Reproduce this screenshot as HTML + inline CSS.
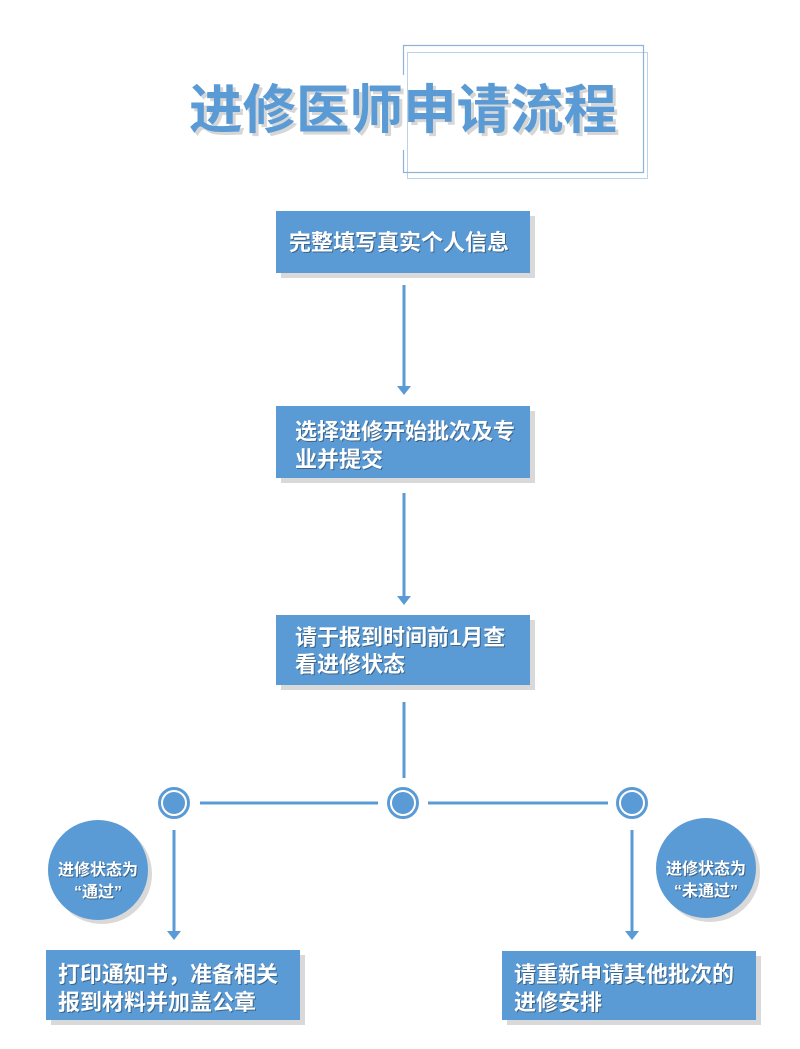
<!DOCTYPE html>
<html><head><meta charset="utf-8"><style>
html,body{margin:0;padding:0;background:#fff;}
svg{display:block;}
text{font-family:"Liberation Sans","Noto Sans CJK SC",sans-serif;font-weight:bold;}
.w{fill:#fff;filter:drop-shadow(1px 1px 0 rgba(0,0,0,.35));}
</style></head><body>
<svg width="800" height="1049" viewBox="0 0 800 1049" xmlns="http://www.w3.org/2000/svg">
<rect x="407.5" y="52.5" width="240" height="126" fill="none" stroke="#b9d3ea" stroke-width="1"/>
<path d="M403.5 75 V45.5 H643.5 V172.5 H403.5 V150" fill="none" stroke="#8fb3d6" stroke-width="1.2"/>
<text x="192" y="131" font-size="53" fill="#d6d6d6" textLength="428" lengthAdjust="spacingAndGlyphs">进修医师申请流程</text>
<text x="189" y="128" font-size="53" fill="#5b9bd5" textLength="428" lengthAdjust="spacingAndGlyphs">进修医师申请流程</text>
<g fill="#d9d9d9"><rect x="281" y="216" width="254" height="62"/><rect x="281" y="411" width="254" height="72"/><rect x="281" y="620" width="254" height="70"/><rect x="51" y="955" width="254" height="70"/><rect x="507" y="956" width="254" height="69"/></g>
<g fill="#5b9bd5"><rect x="276" y="211" width="254" height="62"/><rect x="276" y="406" width="254" height="72"/><rect x="276" y="615" width="254" height="70"/><rect x="46" y="950" width="254" height="70"/><rect x="502" y="951" width="254" height="69"/></g>
<g font-size="22" class="w">
<text x="289" y="250">完整填写真实个人信息</text>
<text x="295" y="439">选择进修开始批次及专</text>
<text x="295" y="467">业并提交</text>
<text x="295" y="645">请于报到时间前1月查</text>
<text x="295" y="672">看进修状态</text>
<text x="58" y="982">打印通知书，准备相关</text>
<text x="58" y="1010">报到材料并加盖公章</text>
<text x="514" y="982">请重新申请其他批次的</text>
<text x="514" y="1010">进修安排</text>
</g>
<g stroke="#5b9bd5" stroke-width="3" fill="none">
<line x1="404" y1="285" x2="404" y2="386"/>
<line x1="404" y1="493" x2="404" y2="596"/>
<line x1="404" y1="702" x2="404" y2="778"/>
<line x1="200" y1="803" x2="378" y2="803"/>
<line x1="428" y1="803" x2="608" y2="803"/>
<line x1="174" y1="830" x2="174" y2="931"/>
<line x1="632" y1="830" x2="632" y2="931"/>
</g>
<g fill="#5b9bd5">
<polygon points="397,386 411,386 404,395"/>
<polygon points="397,596 411,596 404,605"/>
<polygon points="167,931 181,931 174,940"/>
<polygon points="625,931 639,931 632,940"/>
</g>
<g fill="#5b9bd5" stroke="#fff" stroke-width="2">
<circle cx="174" cy="803" r="15" stroke="#5b9bd5"/><circle cx="174" cy="803" r="12"/>
<circle cx="403" cy="803" r="15" stroke="#5b9bd5"/><circle cx="403" cy="803" r="12"/>
<circle cx="632" cy="803" r="15" stroke="#5b9bd5"/><circle cx="632" cy="803" r="12"/>
</g>
<circle cx="102" cy="874" r="50" fill="#d9d9d9"/>
<circle cx="98" cy="870" r="50" fill="#5b9bd5"/>
<circle cx="710" cy="872" r="50" fill="#d9d9d9"/>
<circle cx="706" cy="868" r="50" fill="#5b9bd5"/>
<g font-size="16" class="w" text-anchor="middle">
<text x="98" y="875">进修状态为</text>
<text x="98" y="897">“通过”</text>
<text x="706" y="874">进修状态为</text>
<text x="706" y="896">“未通过”</text>
</g>
</svg>
</body></html>
